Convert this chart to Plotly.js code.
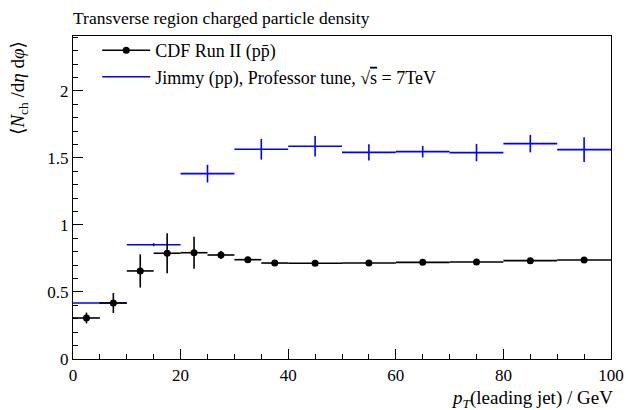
<!DOCTYPE html>
<html>
<head>
<meta charset="utf-8">
<script src="https://cdn.plot.ly/plotly-3.0.1.min.js"></script>
<style>html,body{margin:0;padding:0;background:#fff;}#chart{width:628px;height:410px;}</style>
</head>
<body>
<div id="chart"></div>
<script>
// CDF Run II data
const cdfX    = [2.5, 7.5, 12.5, 17.5, 22.5, 27.5, 32.5, 37.5, 45, 55, 65, 75, 85, 95];
const cdfXerr = [2.5, 2.5, 2.5, 2.5, 2.5, 2.5, 2.5, 2.5, 5, 5, 5, 5, 5, 5];
const cdfY    = [0.306, 0.418, 0.657, 0.789, 0.793, 0.776, 0.741, 0.716, 0.714, 0.716, 0.721, 0.724, 0.734, 0.739];
const cdfYerr = [0.04, 0.075, 0.124, 0.15, 0.12, 0.03, 0.015, 0.01, 0.008, 0.008, 0.008, 0.008, 0.008, 0.008];
// Jimmy (pp), Professor tune, 7 TeV
const jimX    = [5, 15, 25, 35, 45, 55, 65, 75, 85, 95];
const jimXerr = [5, 5, 5, 5, 5, 5, 5, 5, 5, 5];
const jimY    = [0.418, 0.853, 1.383, 1.565, 1.587, 1.542, 1.547, 1.540, 1.607, 1.562];
const jimYerr = [0.005, 0.012, 0.066, 0.077, 0.077, 0.06, 0.043, 0.065, 0.065, 0.093];

const FONT = "Liberation Serif, DejaVu Serif, serif";

const traces = [
  {
    x: jimX, y: jimY, type: 'scatter', mode: 'markers',
    marker: {color: '#0000ff', size: 1, opacity: 0},
    error_x: {type: 'data', array: jimXerr, color: '#0000ff', thickness: 1.6, width: 0},
    error_y: {type: 'data', array: jimYerr, color: '#0000ff', thickness: 1.6, width: 0},
    showlegend: false, hoverinfo: 'skip'
  },
  {
    x: cdfX, y: cdfY, type: 'scatter', mode: 'markers',
    marker: {color: '#000000', size: 7},
    error_x: {type: 'data', array: cdfXerr, color: '#000000', thickness: 1.6, width: 0},
    error_y: {type: 'data', array: cdfYerr, color: '#000000', thickness: 1.6, width: 0},
    showlegend: false
  },
  {
    x: [null], y: [null], type: 'scatter', mode: 'lines+markers',
    name: 'CDF Run II (pp̄)',
    line: {color: '#000000', width: 1.6}, marker: {color: '#000000', size: 7}
  },
  {
    x: [null], y: [null], type: 'scatter', mode: 'lines',
    name: 'Jimmy (pp), Professor tune, √<span style="text-decoration:overline">s</span> = 7TeV',
    line: {color: '#0000ff', width: 1.6}
  }
];

const layout = {
  width: 628, height: 410,
  margin: {l: 73, r: 17, t: 36, b: 51},
  paper_bgcolor: '#ffffff', plot_bgcolor: '#ffffff',
  font: {family: FONT, size: 17, color: '#000000'},
  showlegend: true,
  legend: {x: 0.045, y: 1.012, xanchor: 'left', yanchor: 'top', bgcolor: 'rgba(0,0,0,0)',
           font: {family: FONT, size: 18}, tracegroupgap: 0, itemwidth: 48},
  xaxis: {
    range: [0, 100], showgrid: false, zeroline: false,
    showline: true, mirror: true, linecolor: '#000', linewidth: 1.2,
    ticks: 'inside', ticklen: 10, tickcolor: '#000', tickwidth: 1,
    dtick: 20, tick0: 0, tickfont: {family: FONT, size: 17},
    minor: {dtick: 5, ticks: 'inside', ticklen: 5, tickcolor: '#000', showgrid: false}
  },
  yaxis: {
    range: [0, 2.41], showgrid: false, zeroline: false,
    showline: true, mirror: true, linecolor: '#000', linewidth: 1.2,
    ticks: 'inside', ticklen: 10, tickcolor: '#000', tickwidth: 1,
    dtick: 0.5, tick0: 0, tickfont: {family: FONT, size: 17},
    minor: {dtick: 0.1, ticks: 'inside', ticklen: 5, tickcolor: '#000', showgrid: false}
  },
  annotations: [
    {text: 'Transverse region charged particle density', xref: 'paper', yref: 'paper',
     x: 0, y: 1, xanchor: 'left', yanchor: 'bottom', yshift: 6, xshift: -2, showarrow: false,
     font: {family: FONT, size: 17.5}},
    {text: '<i>p</i><sub><i>T</i></sub>(leading jet) / GeV', xref: 'paper', yref: 'paper',
     x: 1, y: 0, xanchor: 'right', yanchor: 'top', yshift: -26, xshift: 4, showarrow: false,
     font: {family: FONT, size: 19}},
    {text: '⟨<i>N</i><sub>ch</sub> /d<i>η</i> d<i>φ</i>⟩', xref: 'paper', yref: 'paper',
     x: 0, y: 1, xanchor: 'right', yanchor: 'top', xshift: -40, yshift: -3, textangle: -90, showarrow: false,
     font: {family: FONT, size: 19}}
  ]
};

Plotly.newPlot('chart', traces, layout, {staticPlot: true, displayModeBar: false});
</script>
</body>
</html>
